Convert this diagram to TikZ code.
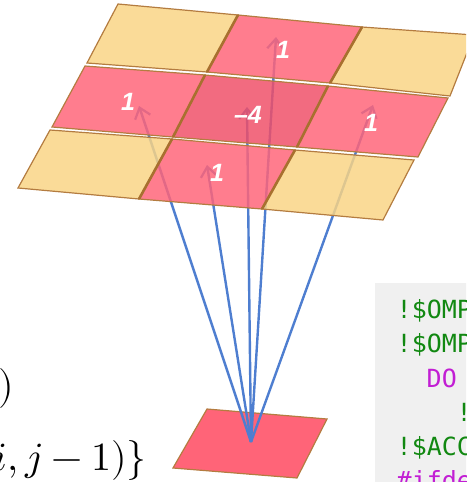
\documentclass[tikz,border=0pt]{standalone}
\usepackage{fontspec}
\usepackage{unicode-math}
\setmathfont{Latin Modern Math}
\newfontfamily\labfont{Liberation Sans}
\newfontfamily\codefont{DejaVu Sans Mono}
\usetikzlibrary{arrows.meta}
\definecolor{cyel}{HTML}{F9D484}
\definecolor{cpink}{HTML}{FF6478}
\definecolor{cmid}{HTML}{EF4F68}
\definecolor{cbrown}{HTML}{B47C40}
\definecolor{csep}{HTML}{A8702F}
\definecolor{cblue}{HTML}{4E7ED0}
\definecolor{cgreen}{HTML}{118811}
\definecolor{cpurple}{HTML}{C21ED4}
\definecolor{cbg}{HTML}{F0F0F0}
\tikzset{
  cell/.style={draw=cbrown, line width=1.2pt, fill opacity=0.84, draw opacity=1},
  sep/.style={draw=csep, line width=2.6pt},
  arr/.style={draw=cblue, line width=2.4pt, -{Straight Barb[length=10pt,width=16pt,line width=2.2pt]}},
  lab/.style={text=white, inner sep=0pt, font=\labfont\bfseries\itshape\fontsize{25}{25}\selectfont},
  code/.style={anchor=base west, inner sep=0pt, font=\codefont\fontsize{25}{25}\selectfont},
  mathtxt/.style={inner sep=0pt, font=\fontsize{40}{40}\selectfont}
}
\begin{document}
\begin{tikzpicture}[x=1pt,y=-1pt]
\useasboundingbox (0,0) rectangle (466,482);
\clip (0,0) rectangle (466,482);

% code box
\fill[cbg] (375,283) rectangle (470,490);
\node[code, text=cgreen] (k1) at (396.5,318) {!\$OMP};
\node[code, text=cgreen] (k2) at (396.5,352) {!\$OMP};
\node[code, text=cpurple] (k3) at (426.5,387) {DO};
\node[code, text=cgreen] (k4) at (456.5,421) {!};
\node[code, text=cgreen] (k5) at (396.5,455) {!\$ACC};
\node[code, text=cpurple] (k6) at (396.5,489) {\#ifde};

% math text
\node[mathtxt, anchor=base west] (m1) at (-2,398) {$)$};
\node[mathtxt, anchor=base east] (m2) at (147,470) {$(i,j-1)\}$};

% bottom cell
\coordinate (s1) at (207,409);
\coordinate (s2) at (327,419);
\coordinate (s3) at (297,478);
\coordinate (s4) at (173,468);
\filldraw[fill=cpink, draw=cbrown, line width=1.2pt] (s1) -- (s2) -- (s3) -- (s4) -- cycle;

% arrows
\coordinate (o) at (251,442);
\coordinate (tT) at (276,37);
\coordinate (tL) at (139,106);
\coordinate (tC) at (247,107);
\coordinate (tR) at (373,105);
\coordinate (tB) at (207,165);
\draw[arr] (o) -- (tL);
\draw[arr] (o) -- (tB);
\draw[arr] (o) -- (tC);
\draw[arr] (o) -- (tT);
\draw[arr] (o) -- (tR);

% grid lattice
\coordinate (a00) at (118,4);   \coordinate (a10) at (238,15);  \coordinate (a20) at (362,27);  \coordinate (a30) at (474,35);
\coordinate (a01) at (87,63);   \coordinate (a11) at (207,72);  \coordinate (a21) at (330,83);  \coordinate (a31) at (450,96);
\coordinate (b00) at (85,66);   \coordinate (b10) at (205,75);  \coordinate (b20) at (328,86);  \coordinate (b30) at (448,98);
\coordinate (b01) at (52,127);  \coordinate (b11) at (173,137); \coordinate (b21) at (297,147); \coordinate (b31) at (418,157);
\coordinate (c00) at (50,130);  \coordinate (c10) at (172,139); \coordinate (c20) at (295,150); \coordinate (c30) at (414,160);
\coordinate (c01) at (18,188);  \coordinate (c11) at (139,199); \coordinate (c21) at (262,209); \coordinate (c31) at (383,220);

% cells
\filldraw[cell, fill=cyel]  (a00) -- (a10) -- (a11) -- (a01) -- cycle;
\filldraw[cell, fill=cpink] (a10) -- (a20) -- (a21) -- (a11) -- cycle;
\filldraw[cell, fill=cyel]  (a20) -- (a30) -- (a31) -- (a21) -- cycle;
\filldraw[cell, fill=cpink] (b00) -- (b10) -- (b11) -- (b01) -- cycle;
\filldraw[cell, fill=cmid]  (b10) -- (b20) -- (b21) -- (b11) -- cycle;
\filldraw[cell, fill=cpink] (b20) -- (b30) -- (b31) -- (b21) -- cycle;
\filldraw[cell, fill=cyel]  (c00) -- (c10) -- (c11) -- (c01) -- cycle;
\filldraw[cell, fill=cpink] (c10) -- (c20) -- (c21) -- (c11) -- cycle;
\filldraw[cell, fill=cyel]  (c20) -- (c30) -- (c31) -- (c21) -- cycle;

% column separators
\draw[sep] (a10) -- (a11);
\draw[sep] (a20) -- (a21);
\draw[sep] (b10) -- (b11);
\draw[sep] (b20) -- (b21);
\draw[sep] (c10) -- (c11);
\draw[sep] (c20) -- (c21);

% labels
\node[lab] (lT) at (283,50) {1};
\node[lab] (lL) at (128,102) {1};
\node[lab] (lC) at (248,115) {–4};
\node[lab] (lR) at (371,123) {1};
\node[lab] (lB) at (217,173) {1};
\end{tikzpicture}
\end{document}
